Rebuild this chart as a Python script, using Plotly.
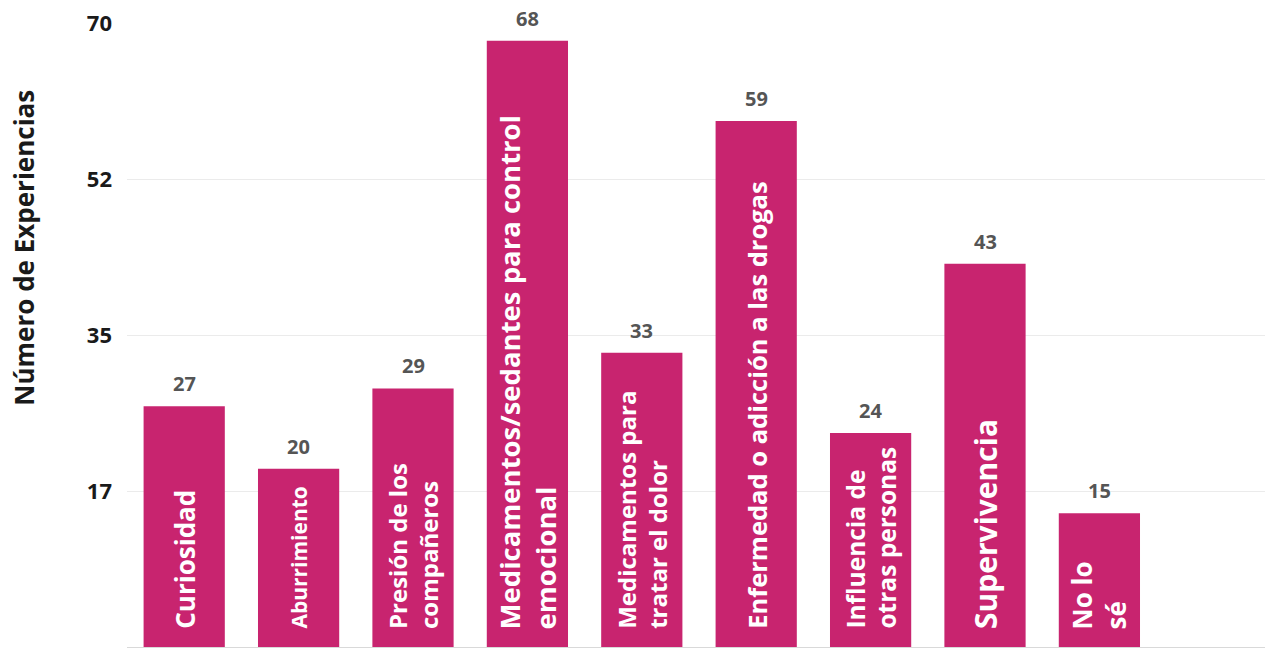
import plotly.graph_objects as go

categories = ["Curiosidad", "Aburrimiento", "Presión de los<br>compañeros",
              "Medicamentos/sedantes para control<br>emocional",
              "Medicamentos para<br>tratar el dolor",
              "Enfermedad o adicción a las drogas",
              "Influencia de<br>otras personas", "Supervivencia", "No lo<br>sé"]
values = [27, 20, 29, 68, 33, 59, 24, 43, 15]
tick_vals = [17.5, 35, 52.5, 70]
tick_text = ["17", "35", "52", "70"]
y_title = "Número de Experiencias"

# style: font size of each in-bar label
label_sizes = [26, 21, 24, 27.5, 24, 25.5, 24.5, 30, 26]

x = list(range(len(categories)))
font_family = "Open Sans"
bar_color = "#C8246F"

fig = go.Figure()
fig.add_trace(go.Bar(
    x=x, y=values, width=0.71,
    marker=dict(color=bar_color, line=dict(width=0)),
    hoverinfo="skip",
))

annotations = []
for xi, v, lab, fs in zip(x, values, categories, label_sizes):
    annotations.append(dict(
        x=xi, y=0, xref="x", yref="y", text=lab, showarrow=False,
        textangle=-90, xanchor="center", yanchor="bottom", yshift=16,
        align="left",
        font=dict(family=font_family, size=fs, color="white", weight="bold"),
    ))
    annotations.append(dict(
        x=xi, y=v, xref="x", yref="y", text=str(v), showarrow=False,
        xanchor="center", yanchor="bottom", yshift=7,
        font=dict(family=font_family, size=20, color="#555555", weight="bold"),
    ))

annotations.append(dict(
    x=0, y=0.64, xref="paper", yref="paper", text=y_title, showarrow=False,
    textangle=-90, xanchor="center", yanchor="middle", xshift=-103,
    font=dict(family=font_family, size=26, color="#1a1a1a", weight="bold"),
))

fig.update_layout(
    width=1265, height=642,
    margin=dict(l=119, r=2, t=15, b=3),
    plot_bgcolor="white", paper_bgcolor="white",
    showlegend=False,
    annotations=annotations,
    xaxis=dict(range=[-0.5, 9.5], showticklabels=False, showgrid=False,
               zeroline=False, showline=True, linecolor="#d9d9d9", linewidth=1,
               automargin=False),
    yaxis=dict(range=[0, 70], tickvals=tick_vals, ticktext=tick_text,
               showgrid=True, gridcolor="#ebebeb", zeroline=False,
               ticklabeloverflow="allow", automargin=False,
               tickfont=dict(family=font_family, size=22, color="#1a1a1a", weight="bold"),
               ticklabelstandoff=14),
)

fig.write_html("out.html")
